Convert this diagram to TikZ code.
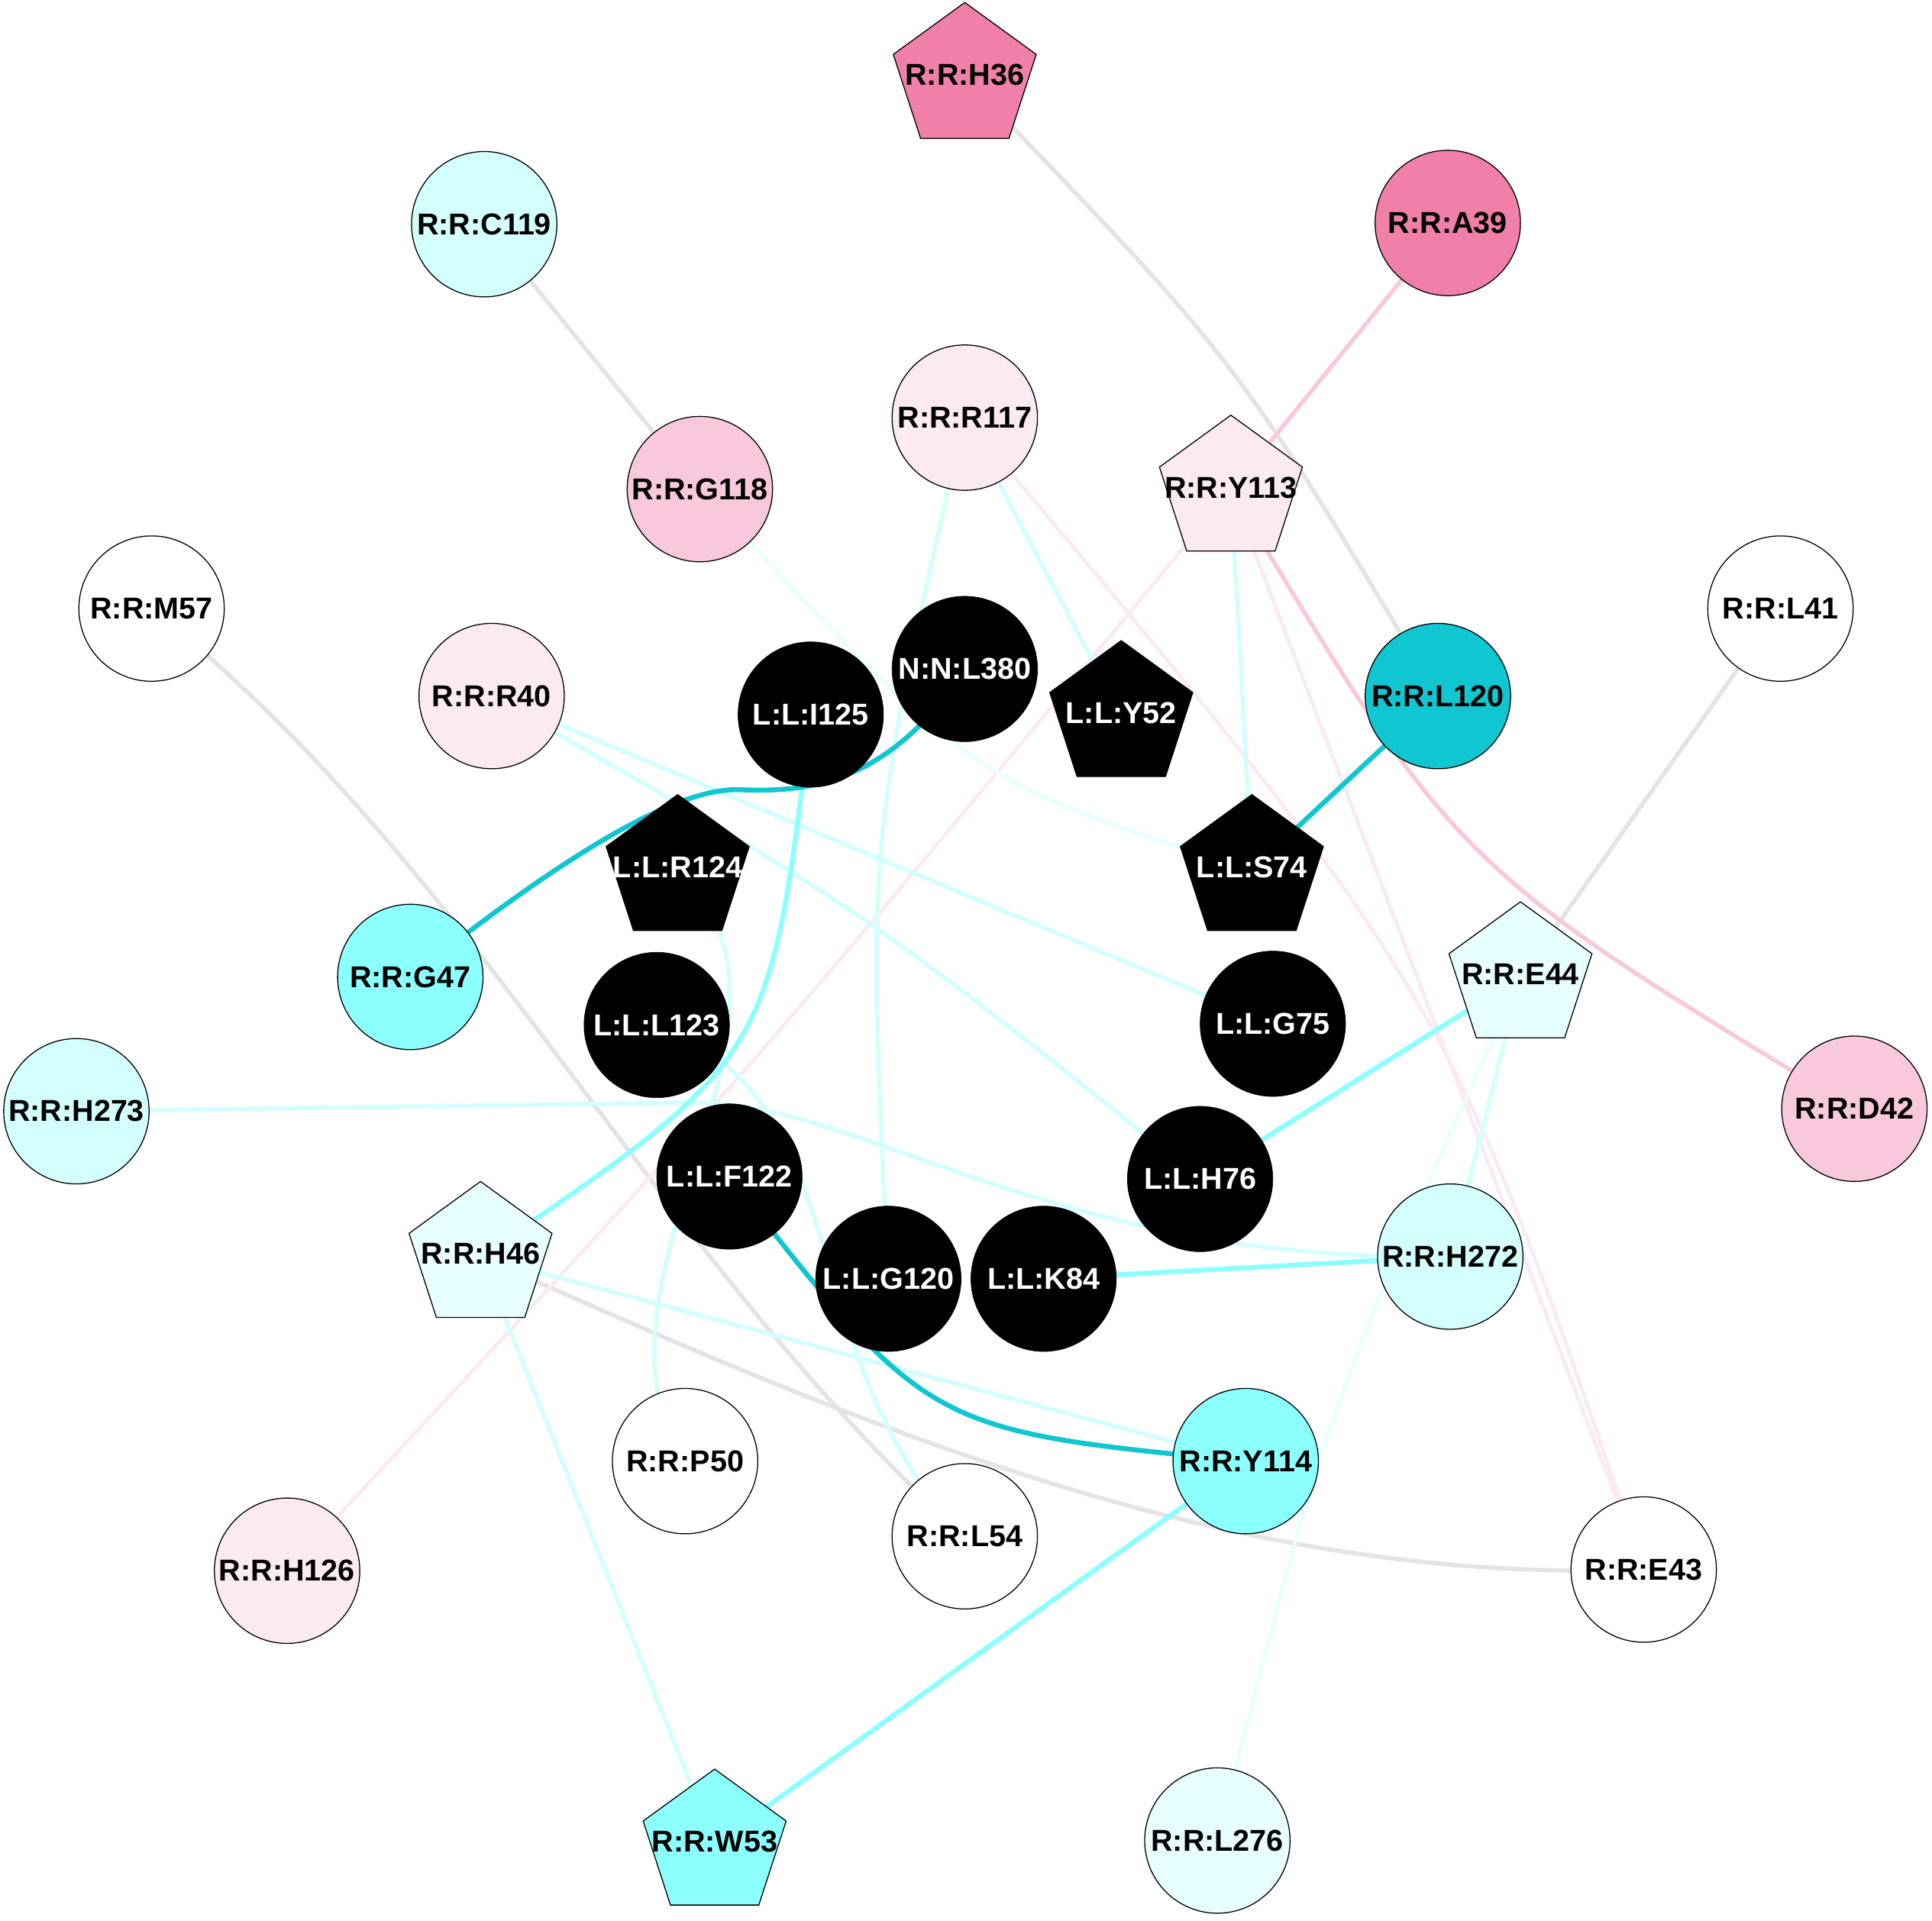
\documentclass[tikz,border=0pt]{standalone}
\usepackage{fontspec}
\setmainfont{Liberation Sans}
\usetikzlibrary{shapes.geometric}
\pgfdeclarelayer{bg}
\pgfdeclarelayer{edges}
\pgfsetlayers{bg,edges,main}
\definecolor{hpink}{HTML}{F07FAA}
\definecolor{mpink}{HTML}{F8C8DC}
\definecolor{ppink}{HTML}{FBEAF2}
\definecolor{cyanA}{HTML}{8CFFFF}
\definecolor{dcyan}{HTML}{10C6D0}
\definecolor{lcyan}{HTML}{D3FFFF}
\definecolor{vlcyan}{HTML}{E8FFFF}
\definecolor{edgegray}{HTML}{E4E4E4}
\newcommand{\pentlabel}[1]{\makebox[0pt]{\raisebox{4.5pt}{#1}}}
\begin{document}
\begin{tikzpicture}[x=1pt,y=-1pt,
  every node/.style={font=\fontsize{24.5}{28}\selectfont\bfseries, inner sep=0pt, text=black},
  res/.style={circle, draw=black, line width=0.8pt, minimum size=118pt},
  lig/.style={circle, draw=black, fill=black, minimum size=118pt, text=white},
  pent/.style={regular polygon, regular polygon sides=5, draw=black, line width=0.8pt, minimum size=122pt},
  ligpent/.style={pent, fill=black, text=white},
  gr/.style={draw=edgegray, line width=3.5pt},
  dc/.style={draw=dcyan, line width=4pt},
  cy/.style={draw=cyanA, line width=4pt},
  lc/.style={draw=lcyan, line width=3.5pt},
  vc/.style={draw=vlcyan, line width=3pt},
  pk/.style={draw=mpink, line width=3.5pt},
  lp/.style={draw=ppink, line width=3pt}]
\begin{pgfonlayer}{bg}
\fill[white] (0,0) rectangle (1568,1558.7);
\end{pgfonlayer}
\useasboundingbox (0,0) rectangle (1568,1558.7);
% nodes
\node[pent, fill=hpink] (H36) at (783,63) {\pentlabel{R:R:H36}};
\node[res, fill=lcyan] (C119) at (393,182) {R:R:C119};
\node[res, fill=hpink] (A39) at (1175,181) {R:R:A39};
\node[res, fill=ppink] (R117) at (783,339) {R:R:R117};
\node[res, fill=mpink] (G118) at (568,397) {R:R:G118};
\node[pent, fill=ppink] (Y113) at (999,398) {\pentlabel{R:R:Y113}};
\node[res, fill=white] (M57) at (123,494) {R:R:M57};
\node[res, fill=white] (L41) at (1445,494) {R:R:L41};
\node[lig] (N380) at (783,543) {N:N:L380};
\node[lig] (I125) at (658,580) {L:L:I125};
\node[ligpent] (Y52) at (910,581) {\pentlabel{L:L:Y52}};
\node[res, fill=ppink] (R40) at (399,565) {R:R:R40};
\node[res, fill=dcyan] (L120) at (1167,565) {R:R:L120};
\node[ligpent] (R124) at (550,706) {\pentlabel{L:L:R124}};
\node[ligpent] (S74) at (1016,706) {\pentlabel{L:L:S74}};
\node[res, fill=cyanA] (G47) at (333,793) {R:R:G47};
\node[pent, fill=vlcyan] (E44) at (1234,793) {\pentlabel{R:R:E44}};
\node[lig] (L123) at (533,832) {L:L:L123};
\node[lig] (G75) at (1033,831) {L:L:G75};
\node[res, fill=lcyan] (H273) at (62,902) {R:R:H273};
\node[res, fill=mpink] (D42) at (1505,900) {R:R:D42};
\node[lig] (F122) at (592,955) {L:L:F122};
\node[lig] (H76) at (974,957) {L:L:H76};
\node[pent, fill=vlcyan] (H46) at (390,1020) {\pentlabel{R:R:H46}};
\node[res, fill=lcyan] (H272) at (1177,1020) {R:R:H272};
\node[lig] (G120) at (721,1038) {L:L:G120};
\node[lig] (K84) at (847,1038) {L:L:K84};
\node[res, fill=white] (P50) at (556,1186) {R:R:P50};
\node[res, fill=cyanA] (Y114) at (1011,1186) {R:R:Y114};
\node[res, fill=white] (L54) at (783,1247) {R:R:L54};
\node[res, fill=ppink] (H126) at (233,1275) {R:R:H126};
\node[res, fill=white] (E43) at (1334,1274) {R:R:E43};
\node[pent, fill=cyanA] (W53) at (580,1497) {\pentlabel{R:R:W53}};
\node[res, fill=vlcyan] (L276) at (988,1494) {R:R:L276};
% edges
\begin{pgfonlayer}{edges}
\draw[gr] (H36.center) .. controls (1004,292) .. (L120.center);
\draw[gr] (C119.center) -- (G118.center);
\draw[gr] (M57.center) .. controls (388,705) and (533,1022) .. (L54.center);
\draw[gr] (L41.center) -- (E44.center);
\draw[gr] (H46.center) .. controls (691,1154) and (993,1287) .. (E43.center);
\draw[lp] (R117.center) .. controls (1175,806) .. (E43.center);
\draw[lp] (Y113.center) -- (E43.center);
\draw[lp] (Y113.center) .. controls (600,880) .. (H126.center);
\draw[pk] (A39.center) -- (Y113.center);
\draw[pk] (Y113.center) .. controls (1182,704) .. (D42.center);
\draw[vc] (G118.center) .. controls (789,635) .. (S74.center);
\draw[vc] (E44.center) .. controls (1077,1142) .. (L276.center);
\draw[lc] (R117.center) .. controls (703,687) .. (G120.center);
\draw[lc] (R117.center) -- (Y52.center);
\draw[lc] (Y113.center) -- (S74.center);
\draw[lc] (R40.center) -- (G75.center);
\draw[lc] (R40.center) .. controls (702,739) .. (H76.center);
\draw[lc] (R124.center) .. controls (680,830) and (460,1040) .. (P50.center);
\draw[lc] (L123.center) .. controls (700,895) and (640,1100) .. (L54.center);
\draw[lc] (H273.center) -- (560,895) .. controls (700,893) and (850,1025) .. (H272.center);
\draw[lc] (E44.center) -- (H272.center);
\draw[lc] (H46.center) -- (Y114.center);
\draw[lc] (H46.center) -- (W53.center);
\draw[cy] (I125.center) .. controls (625,860) .. (H46.center);
\draw[cy] (K84.center) -- (H272.center);
\draw[cy] (H76.center) -- (E44.center);
\draw[cy] (Y114.center) -- (W53.center);
\draw[dc] (L120.center) -- (S74.center);
\draw[dc] (G47.center) .. controls (433,714) and (540,639) .. (600,641) .. controls (650,643) and (720,640) .. (N380.center);
\draw[dc] (F122.center) .. controls (753,1161) .. (Y114.center);
\end{pgfonlayer}
\end{tikzpicture}
\end{document}
